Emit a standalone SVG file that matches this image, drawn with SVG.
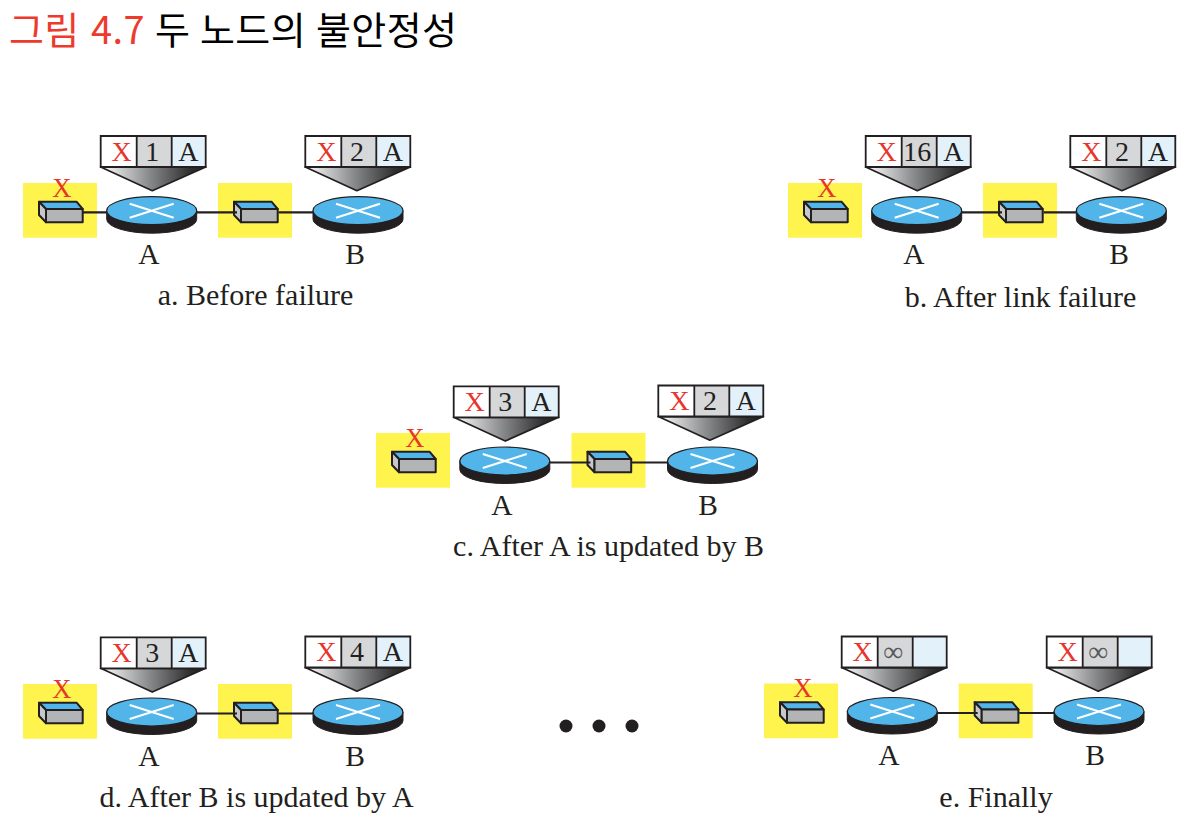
<svg xmlns="http://www.w3.org/2000/svg" xmlns:xlink="http://www.w3.org/1999/xlink" width="1185" height="817" viewBox="0 0 1185 817">
<style>
text{font-family:"Liberation Serif","Times New Roman",serif;fill:#231f20}
.title{font-family:"Noto Sans CJK KR","Noto Sans",sans-serif;font-size:38px;letter-spacing:.4px;fill:#000}
.title .red{fill:#ee3a2c}
.cap{font-size:30px;text-anchor:middle}
.lab{font-size:29.500px;text-anchor:middle}
.cell{font-size:28px;text-anchor:middle}
.rx{fill:#e8352c}
.inf{fill:#58595b}
.mark{font-size:26.500px;text-anchor:middle;fill:#e8352c}
.yel{fill:#fff34d}
.link{stroke:#231f20;stroke-width:2.200;fill:none}
.dot{fill:#231f20}
</style>
<defs>
<linearGradient id="fg" x1="0" x2="1" y1="0" y2="0"><stop offset="0" stop-color="#ffffff"/><stop offset="0.45" stop-color="#8c8d8f"/><stop offset="0.85" stop-color="#2f2f30"/><stop offset="1" stop-color="#1f1f20"/></linearGradient>
<g id="router">
<path d="M-45 0V8.500A45 14 0 0 0 45 8.500V0Z" fill="#231f20" stroke="#231f20" stroke-width="1"/>
<ellipse rx="45" ry="14" fill="#52b5ea" stroke="#231f20" stroke-width="1.200"/>
<path d="M-22-7L22 7M-22 7L22-7" stroke="#fff" stroke-width="2" fill="none"/>
</g>
<g id="switch" stroke="#231f20" stroke-width="2" stroke-linejoin="round">
<path d="M0 0H37.500L43.700 7.300H7Z" fill="#52b5ea"/>
<path d="M0 0L7 7.300V20.600L0 13.300Z" fill="#c7c8ca"/>
<rect x="7" y="7.300" width="36.700" height="13.300" fill="#b3b4b6"/>
</g>
<g id="table">
<path d="M0 31H105L51.600 54.700Z" fill="url(#fg)" stroke="#231f20" stroke-width="1.800" stroke-linejoin="round"/>
<rect width="36" height="31" fill="#fff"/>
<rect x="36" width="35" height="31" fill="#d6d7d9"/>
<rect x="71" width="34" height="31" fill="#e3f1fa"/>
<path d="M0 0H105V31H0ZM36 0V31M71 0V31" fill="none" stroke="#231f20" stroke-width="1.800"/>
</g>
</defs>
<rect width="1185" height="817" fill="#fff"/>
<text class="title" y="44"><tspan class="red" x="9">그림</tspan><tspan class="red" x="91">4.7</tspan><tspan x="155">두</tspan><tspan x="200">노드의</tspan><tspan x="316">불안정성</tspan></text>

<g id="a-net-x" transform="translate(23,183)"><rect class="yel" width="74" height="54.700"/><use href="#switch" xlink:href="#switch" x="16" y="18.700"/><text class="mark" x="38.700" y="13.500">X</text></g>
<g id="a-net-ab" transform="translate(218,183)"><rect class="yel" width="74" height="54.700"/><use href="#switch" xlink:href="#switch" x="16" y="18.700"/></g>
<g id="a-router-a"><use href="#router" xlink:href="#router" x="151.700" y="210.700"/><text class="lab" x="149" y="264">A</text></g>
<g id="a-router-b"><use href="#router" xlink:href="#router" x="358" y="210.700"/><text class="lab" x="355" y="264">B</text></g>
<g id="a-table-a" transform="translate(100.700,136)"><use href="#table" xlink:href="#table"/><text class="cell rx" x="21" y="24.700">X</text><text class="cell" x="51.600" y="24.700">1</text><text class="cell" x="87.600" y="24.700">A</text></g>
<g id="a-table-b" transform="translate(305.300,136)"><use href="#table" xlink:href="#table"/><text class="cell rx" x="21" y="24.700">X</text><text class="cell" x="51.600" y="24.700">2</text><text class="cell" x="87.600" y="24.700">A</text></g>
<text class="cap" x="255.500" y="305">a. Before failure</text>

<g id="b-net-x" transform="translate(788,183)"><rect class="yel" width="74" height="54.700"/><use href="#switch" xlink:href="#switch" x="16" y="18.700"/><text class="mark" x="38.700" y="13.500">X</text></g>
<g id="b-net-ab" transform="translate(983,183)"><rect class="yel" width="74" height="54.700"/><use href="#switch" xlink:href="#switch" x="16" y="18.700"/></g>
<g id="b-router-a"><use href="#router" xlink:href="#router" x="916.700" y="210.700"/><text class="lab" x="914" y="264">A</text></g>
<g id="b-router-b"><use href="#router" xlink:href="#router" x="1121.300" y="210.700"/><text class="lab" x="1119" y="264">B</text></g>
<g id="b-table-a" transform="translate(865.700,136)"><use href="#table" xlink:href="#table"/><text class="cell rx" x="21" y="24.700">X</text><text class="cell" x="51.600" y="24.700">16</text><text class="cell" x="87.600" y="24.700">A</text></g>
<g id="b-table-b" transform="translate(1070.300,136)"><use href="#table" xlink:href="#table"/><text class="cell rx" x="21" y="24.700">X</text><text class="cell" x="51.600" y="24.700">2</text><text class="cell" x="87.600" y="24.700">A</text></g>
<text class="cap" x="1020.500" y="307">b. After link failure</text>

<g id="c-net-x" transform="translate(376,433)"><rect class="yel" width="74" height="54.700"/><use href="#switch" xlink:href="#switch" x="16" y="18.700"/><text class="mark" x="38.700" y="13.500">X</text></g>
<g id="c-net-ab" transform="translate(571.500,433)"><rect class="yel" width="74" height="54.700"/><use href="#switch" xlink:href="#switch" x="16" y="18.700"/></g>
<g id="c-router-a"><use href="#router" xlink:href="#router" x="504.800" y="461"/><text class="lab" x="502" y="514.500">A</text></g>
<g id="c-router-b"><use href="#router" xlink:href="#router" x="712.500" y="461"/><text class="lab" x="708" y="514.500">B</text></g>
<g id="c-table-a" transform="translate(453.700,386.300)"><use href="#table" xlink:href="#table"/><text class="cell rx" x="21" y="24.700">X</text><text class="cell" x="51.600" y="24.700">3</text><text class="cell" x="87.600" y="24.700">A</text></g>
<g id="c-table-b" transform="translate(658.300,385.500)"><use href="#table" xlink:href="#table"/><text class="cell rx" x="21" y="24.700">X</text><text class="cell" x="51.600" y="24.700">2</text><text class="cell" x="87.600" y="24.700">A</text></g>
<text class="cap" x="608.500" y="556">c. After A is updated by B</text>

<g id="d-net-x" transform="translate(23,684)"><rect class="yel" width="74" height="54.700"/><use href="#switch" xlink:href="#switch" x="16" y="18.700"/><text class="mark" x="38.700" y="13.500">X</text></g>
<g id="d-net-ab" transform="translate(218,684)"><rect class="yel" width="74" height="54.700"/><use href="#switch" xlink:href="#switch" x="16" y="18.700"/></g>
<g id="d-router-a"><use href="#router" xlink:href="#router" x="151.700" y="712"/><text class="lab" x="149" y="765.500">A</text></g>
<g id="d-router-b"><use href="#router" xlink:href="#router" x="358" y="712"/><text class="lab" x="355" y="765.500">B</text></g>
<g id="d-table-a" transform="translate(100.700,637.300)"><use href="#table" xlink:href="#table"/><text class="cell rx" x="21" y="24.700">X</text><text class="cell" x="51.600" y="24.700">3</text><text class="cell" x="87.600" y="24.700">A</text></g>
<g id="d-table-b" transform="translate(305.300,636.500)"><use href="#table" xlink:href="#table"/><text class="cell rx" x="21" y="24.700">X</text><text class="cell" x="51.600" y="24.700">4</text><text class="cell" x="87.600" y="24.700">A</text></g>
<text class="cap" x="256.500" y="806.500">d. After B is updated by A</text>

<g id="e-net-x" transform="translate(764,683.500)"><rect class="yel" width="74" height="54.700"/><use href="#switch" xlink:href="#switch" x="16" y="18.700"/><text class="mark" x="38.700" y="13.500">X</text></g>
<g id="e-net-ab" transform="translate(958.700,683.500)"><rect class="yel" width="74" height="54.700"/><use href="#switch" xlink:href="#switch" x="16" y="18.700"/></g>
<g id="e-router-a"><use href="#router" xlink:href="#router" x="892.300" y="711.500"/><text class="lab" x="889" y="765">A</text></g>
<g id="e-router-b"><use href="#router" xlink:href="#router" x="1099" y="711.500"/><text class="lab" x="1095" y="765">B</text></g>
<g id="e-table-a" transform="translate(841.700,636.500)"><use href="#table" xlink:href="#table"/><text class="cell rx" x="21" y="24.700">X</text><text class="cell inf" x="51.600" y="24.700">∞</text></g>
<g id="e-table-b" transform="translate(1046.700,636.500)"><use href="#table" xlink:href="#table"/><text class="cell rx" x="21" y="24.700">X</text><text class="cell inf" x="51.600" y="24.700">∞</text></g>
<text class="cap" x="996" y="806.500">e. Finally</text>

<g id="connectors">
<path class="link" d="M83 212.300H107M197 212.300H237M278.500 212.300H313"/>
<path class="link" d="M962 212.300H1002M1043.500 212.300H1076"/>
<path class="link" d="M550 462.500H590.500M632 462.500H667.500"/>
<path class="link" d="M197 713.500H237M278.500 713.500H313"/>
<path class="link" d="M937.500 713H977.700M1019.200 713H1054"/>
</g>
<g id="ellipsis"><circle class="dot" cx="566" cy="726" r="6.500"/><circle class="dot" cx="599" cy="726" r="6.500"/><circle class="dot" cx="632" cy="726" r="6.500"/></g>
</svg>
